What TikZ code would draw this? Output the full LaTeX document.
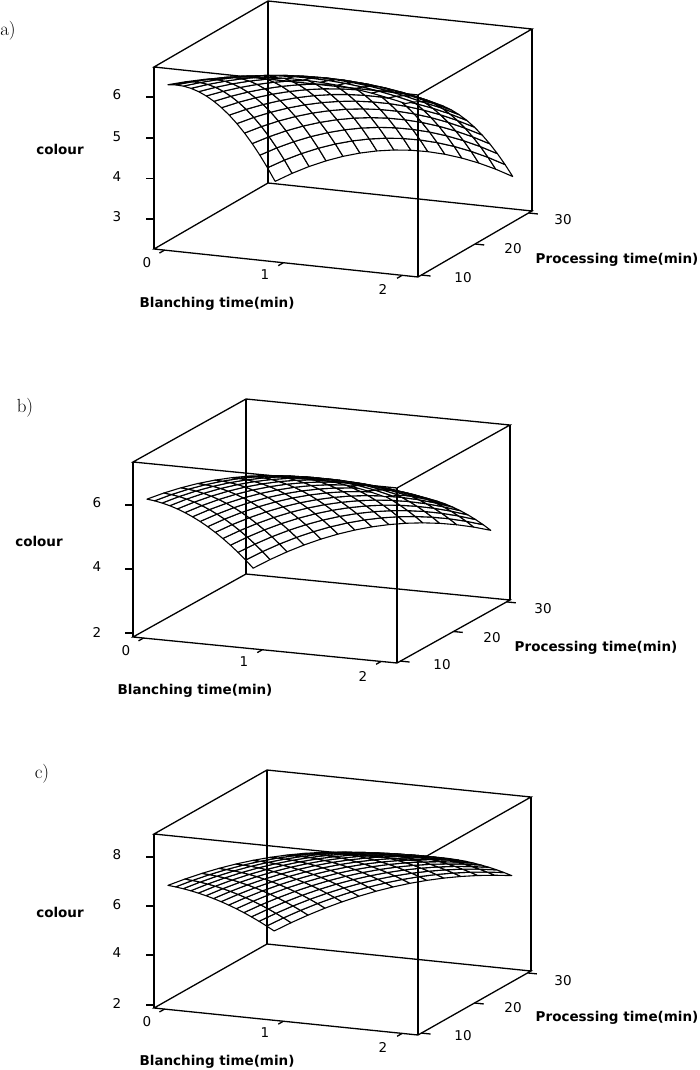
\documentclass[tikz,border=0pt]{standalone}
\usepackage{fontspec}
\usepackage{tikz}
\newfontfamily\plotfont{DejaVu Sans}

\tikzset{
    declare function={
        bx(\x)=0.04+0.9*\x;
        py(\y)=0.03+0.94*\y;
        za(\x,\y)=0.898+0.3815*\x-0.315*\y-0.3465*\x*\x-0.557*\y*\y+0.42*\x*\y-0.29*\x*\x*\y;
        zb(\x,\y)=0.783+0.66*\x-0.454*\y-0.5125*\x*\x-0.279*\y*\y+0.2025*\x*\y;
        zc(\x,\y)=0.70+0.676*\x-0.458*\y-0.376*\x*\x-0.15*\y*\y+0.158*\x*\y;
    },
    box/.style={line width=1.3pt},
    mesh/.style={draw=black, fill=white, line width=1.1pt, line join=round},
    ticklab/.style={font=\plotfont\fontsize{13.5}{13.5}\selectfont, inner sep=0pt},
    axlab/.style={font=\plotfont\bfseries\fontsize{13.5}{13.5}\selectfont, inner sep=0pt},
    panlab/.style={font=\fontsize{19}{19}\selectfont, inner sep=0pt}
}

\begin{document}
\begin{tikzpicture}[x=1pt, y=-1pt]
        \useasboundingbox (0,0) rectangle (700,1070);

        % panel a
        \begin{scope}[shift={(154,249)}, x={(264pt,-28pt)}, y={(114pt,66pt)}, z={(0pt,182pt)}]
            \foreach \j in {13,12,...,0}
                \foreach \i in {0,...,13}
                    \filldraw[mesh] ({bx(\i/14)},{py(\j/14)},{za(\i/14,\j/14)})
                        -- ({bx((\i+1)/14)},{py(\j/14)},{za((\i+1)/14,\j/14)})
                        -- ({bx((\i+1)/14)},{py((\j+1)/14)},{za((\i+1)/14,(\j+1)/14)})
                        -- ({bx(\i/14)},{py((\j+1)/14)},{za(\i/14,(\j+1)/14)}) -- cycle;
            \draw[box] (0,0,0) -- (1,0,0) -- (1,1,0) -- (0,1,0) -- cycle;
            \draw[box] (0,0,1) -- (1,0,1) -- (1,1,1) -- (0,1,1) -- cycle;
            \foreach \p/\q in {0/0,1/0,1/1,0/1}
                \draw[box] (\p,\q,0) -- (\p,\q,1);
            \foreach \f in {0.165,0.388,0.61,0.835}
                \draw[box] (0,0,\f) -- ++(-8pt,0pt);
            \foreach \f in {0.04,0.49,0.94}
                \draw[box] (\f,0,0) -- (\f,-0.045,0);
            \foreach \f in {0.03,0.5,0.97}
                \draw[box] (1,\f,0) -- (1.035,\f,0);
        \end{scope}
        \node[panlab] (la) at (8,31) {a)};
        \node[axlab] (ca) at (60,149) {colour};
        \foreach \v/\h in {3/217,4/177,5/137,6/95}
            \node[ticklab] (az\v) at (117,\h) {\v};
        \node[ticklab] (ab0) at (147,263) {0};
        \node[ticklab] (ab1) at (265,275) {1};
        \node[ticklab] (ab2) at (383,289) {2};
        \node[ticklab] (ap10) at (463,278) {10};
        \node[ticklab] (ap20) at (513,249) {20};
        \node[ticklab] (ap30) at (563,220) {30};
        \node[axlab] (ba) at (217,304) {Blanching time(min)};
        \node[axlab] (pa) at (617,260) {Processing time(min)};

        % panel b
        \begin{scope}[shift={(133,637)}, x={(264pt,-26pt)}, y={(113pt,63pt)}, z={(0pt,175pt)}]
            \foreach \j in {13,12,...,0}
                \foreach \i in {0,...,13}
                    \filldraw[mesh] ({bx(\i/14)},{py(\j/14)},{zb(\i/14,\j/14)})
                        -- ({bx((\i+1)/14)},{py(\j/14)},{zb((\i+1)/14,\j/14)})
                        -- ({bx((\i+1)/14)},{py((\j+1)/14)},{zb((\i+1)/14,(\j+1)/14)})
                        -- ({bx(\i/14)},{py((\j+1)/14)},{zb(\i/14,(\j+1)/14)}) -- cycle;
            \draw[box] (0,0,0) -- (1,0,0) -- (1,1,0) -- (0,1,0) -- cycle;
            \draw[box] (0,0,1) -- (1,0,1) -- (1,1,1) -- (0,1,1) -- cycle;
            \foreach \p/\q in {0/0,1/0,1/1,0/1}
                \draw[box] (\p,\q,0) -- (\p,\q,1);
            \foreach \f in {0.023,0.389,0.754}
                \draw[box] (0,0,\f) -- ++(-8pt,0pt);
            \foreach \f in {0.04,0.49,0.94}
                \draw[box] (\f,0,0) -- (\f,-0.045,0);
            \foreach \f in {0.03,0.5,0.97}
                \draw[box] (1,\f,0) -- (1.035,\f,0);
        \end{scope}
        \node[panlab] (lb) at (25,408) {b)};
        \node[axlab] (cb) at (39,541) {colour};
        \foreach \v/\h in {2/632,4/567,6/503}
            \node[ticklab] (bz\v) at (97,\h) {\v};
        \node[ticklab] (bb0) at (126,651) {0};
        \node[ticklab] (bb1) at (244,662) {1};
        \node[ticklab] (bb2) at (363,676) {2};
        \node[ticklab] (bp10) at (442,665) {10};
        \node[ticklab] (bp20) at (492,638) {20};
        \node[ticklab] (bp30) at (543,609) {30};
        \node[axlab] (bbl) at (195,691) {Blanching time(min)};
        \node[axlab] (pb) at (596,648) {Processing time(min)};

        % panel c
        \begin{scope}[shift={(154,1008)}, x={(264pt,-27pt)}, y={(113pt,64pt)}, z={(0pt,174pt)}]
            \foreach \j in {13,12,...,0}
                \foreach \i in {0,...,13}
                    \filldraw[mesh] ({bx(\i/14)},{py(\j/14)},{zc(\i/14,\j/14)})
                        -- ({bx((\i+1)/14)},{py(\j/14)},{zc((\i+1)/14,\j/14)})
                        -- ({bx((\i+1)/14)},{py((\j+1)/14)},{zc((\i+1)/14,(\j+1)/14)})
                        -- ({bx(\i/14)},{py((\j+1)/14)},{zc(\i/14,(\j+1)/14)}) -- cycle;
            \draw[box] (0,0,0) -- (1,0,0) -- (1,1,0) -- (0,1,0) -- cycle;
            \draw[box] (0,0,1) -- (1,0,1) -- (1,1,1) -- (0,1,1) -- cycle;
            \foreach \p/\q in {0/0,1/0,1/1,0/1}
                \draw[box] (\p,\q,0) -- (\p,\q,1);
            \foreach \f in {0.017,0.305,0.586,0.868}
                \draw[box] (0,0,\f) -- ++(-8pt,0pt);
            \foreach \f in {0.04,0.49,0.94}
                \draw[box] (\f,0,0) -- (\f,-0.045,0);
            \foreach \f in {0.03,0.5,0.97}
                \draw[box] (1,\f,0) -- (1.035,\f,0);
        \end{scope}
        \node[panlab] (lc) at (42,774) {c)};
        \node[axlab] (cc) at (60,912) {colour};
        \foreach \v/\h in {2/1003,4/953,6/905,8/855}
            \node[ticklab] (cz\v) at (117,\h) {\v};
        \node[ticklab] (cb0) at (147,1022) {0};
        \node[ticklab] (cb1) at (265,1033) {1};
        \node[ticklab] (cb2) at (383,1047) {2};
        \node[ticklab] (cp10) at (463,1036) {10};
        \node[ticklab] (cp20) at (513,1008) {20};
        \node[ticklab] (cp30) at (563,981) {30};
        \node[axlab] (bc) at (217,1062) {Blanching time(min)};
        \node[axlab] (pc) at (617,1018) {Processing time(min)};
    \end{tikzpicture}
\end{document}
